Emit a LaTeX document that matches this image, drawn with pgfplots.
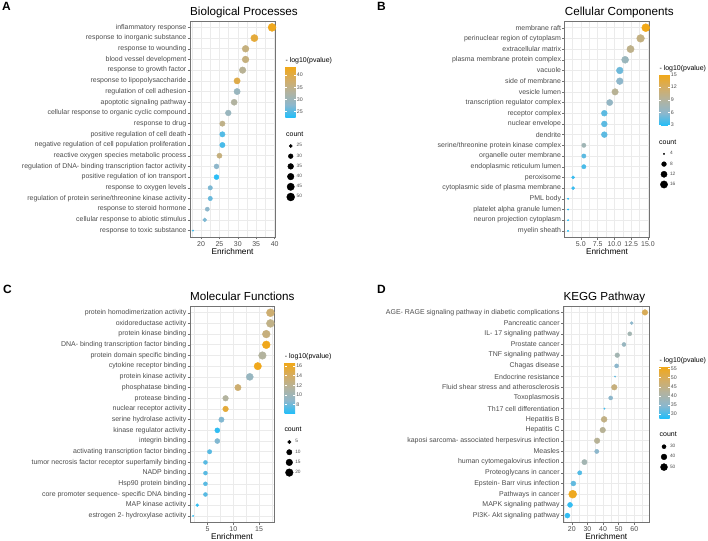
\documentclass[border=0pt]{standalone}
\usepackage{fontspec}
\setmainfont{Liberation Sans}
\usepackage{pgfplots}
\usepackage{pgfplotstable}
\pgfplotsset{compat=1.18}
\pgfplotsset{/pgf/number format/assume math mode=true}

\definecolor{txt}{gray}{0.3}
\definecolor{gridc}{gray}{0.92}
\definecolor{framec}{gray}{0.45}

% -log10(pvalue) colour scale, blue (low) to orange (high)
\pgfplotsset{
  colormap={bluorange}{rgb255=(32,190,250) rgb255=(140,183,205) rgb255=(178,179,160) rgb255=(212,173,100) rgb255=(242,168,22)},
  dotpanel/.style={
    scale only axis, height=216bp, anchor=south west,
    y dir=reverse, ymin=0.4, ymax=20.6, ytick={1,...,20},
    tick align=outside, tick pos=left, major tick length=2.5bp,
    tick style={framec, line width=0.4pt},
    axis line style={framec, line width=0.6pt},
    xmajorgrids, ymajorgrids, xminorgrids,
    major grid style={gridc, line width=0.6pt},
    minor grid style={gridc, line width=0.3pt},
    minor tick length=0pt,
    yticklabel style={font=\fontsize{7}{8}\selectfont, text=txt, inner sep=1pt},
    xticklabel style={font=\fontsize{7}{8}\selectfont, text=txt, inner sep=1pt, yshift=-1bp},
    xlabel={Enrichment},
    xlabel style={at={(axis description cs:0.5,0)}, anchor=base, yshift=-17.2bp,
      inner sep=0pt, font=\fontsize{8.3}{9}\selectfont},
    colormap name=bluorange, colorbar,
    colorbar shift/.style={xshift=0pt},
    colorbar style={scale only axis, width=10.4bp,
      at={(parent axis.north east)}, anchor=north west,
      axis line style={draw=none}, ytick pos=both, yticklabel pos=right,
      tick align=inside, major tick length=2bp,
      major tick style={white, line width=0.5pt},
      yticklabel style={font=\fontsize{5.3}{6}\selectfont, text=txt, inner sep=1pt},
      title={- log10(pvalue)},
      title style={at={(0,1)}, anchor=base west, yshift=-2bp, inner sep=0pt,
        font=\fontsize{7}{8}\selectfont}},
    legend style={at={(1,1)}, anchor=north west, draw=none, fill=none,
      inner sep=0pt, outer sep=0pt, row sep=2.2bp, column sep=1.5bp,
      font=\fontsize{4.8}{5.5}\selectfont, text=txt,
      nodes={inner sep=0.5bp, anchor=west}},
    legend cell align=left,
    legend image code/.code={\path[draw=none, fill=none] (-4bp,-4bp) rectangle (4bp,4bp);
      \draw[##1] plot coordinates {(0bp,0bp)};},
    dots/.style={forget plot, scatter, only marks, mark=*, scatter src=explicit,
      scatter/use mapped color={draw=mapped color, fill=mapped color},
      scatter/@pre marker code/.append style={/tikz/mark size=\rad}},
  },
}

% size key entry: {count min}{count max}{count}
\newcommand\sizekey[3]{%
  \pgfmathsetmacro\keyr{0.7+3.3*sqrt((#3-#1)/(#2-#1))}%
  \edef\keycmd{\noexpand\addlegendimage{mark=*, black, draw=black, fill=black, mark size=\keyr pt}}%
  \keycmd
  \addlegendentry{#3}}

% y = row from the top, x = enrichment, c = count, p = -log10(pvalue)
\pgfplotstableread{
y x c p
1 39.3 50 43
2 34.5 44 41
3 32.1 41 36
4 32.1 41 36
5 31.3 40 34
6 29.8 38 40
7 29.8 38 29.5
8 29.0 37 33
9 27.4 35 29.5
10 25.8 33 35
11 25.8 33 25
12 25.8 33 24.5
13 25.0 32 36
14 24.2 31 28
15 24.2 31 23
16 22.5 29 27
17 22.5 29 26
18 21.7 28 28
19 21.0 27 27
20 17.8 23 24
}\bp

\pgfplotstableread{
y x c p
1 14.67 19 15
2 13.9 18 10.5
3 12.4 16 10
4 11.6 15 7
5 10.8 14 5
6 10.8 14 6
7 10.1 13 9.5
8 9.3 12 6.5
9 8.5 11 4.5
10 8.5 11 4.5
11 8.5 11 4.5
12 5.45 7 7.5
13 5.45 7 4.5
14 5.45 7 4
15 3.85 5 3.5
16 3.85 5 3.5
17 3.1 4 3
18 3.1 4 3
19 3.1 4 3
20 3.1 4 3
}\cc

\pgfplotstableread{
y x c p
1 17.2 22 13.5
2 17.2 22 12.5
3 16.4 21 13
4 16.4 21 16.5
5 15.65 20 11.5
6 14.75 19 16.5
7 13.2 17 9.5
8 10.9 14 13.5
9 8.5 11 11.5
10 8.5 11 15.5
11 7.7 10 8.5
12 6.9 9 6.5
13 6.9 9 8.5
14 5.4 7 7.5
15 4.6 6 7.5
16 4.6 6 7.5
17 4.6 6 7.5
18 4.6 6 7.5
19 3.0 4 6.5
20 2.2 3 6.5
}\mf

\pgfplotstableread{
y x c p
1 66.8 39 50
2 58.3 26 35
3 57.1 30 39
4 53.4 30 37
5 49.1 33 39
6 48.7 30 35
7 47.7 24 32
8 47.2 39 46
9 44.9 30 35
10 40.9 24 30
11 40.7 41 45
12 39.8 39 43
13 36.2 39 43
14 36.0 31 35
15 28.1 37 39
16 25.1 31 31
17 21.0 35 32
18 20.6 60 55
19 18.9 35 29
20 17.2 35 29
}\kegg

\begin{document}
\begin{tikzpicture}[x=1bp, y=1bp]
\path[use as bounding box] (0,0) rectangle (708,541);

% ---------------- A
\begin{axis}[dotpanel, at={(190bp,304bp)}, width=85bp,
  xmin=17, xmax=40.1, xtick={20,25,30,35,40},
  minor xtick={17.5,22.5,27.5,32.5,37.5},
  yticklabels={inflammatory response, response to inorganic substance,
    response to wounding, blood vessel development, response to growth factor,
    response to lipopolysaccharide, regulation of cell adhesion,
    apoptotic signaling pathway, cellular response to organic cyclic compound,
    response to drug, positive regulation of cell death,
    negative regulation of cell population proliferation,
    reactive oxygen species metabolic process,
    regulation of DNA- binding transcription factor activity,
    positive regulation of ion transport, response to oxygen levels,
    regulation of protein serine/threonine kinase activity,
    response to steroid hormone, cellular response to abiotic stimulus,
    response to toxic substance},
  point meta min=22.5, point meta max=43.5,
  colorbar style={xshift=10.3bp, yshift=-45.6bp, height=51bp, ytick={25,30,35,40}},
  legend style={xshift=11.7bp, yshift=-121bp}]
\addplot[dots, visualization depends on={0.7+3.3*sqrt((\thisrow{c}-23)/27) \as \rad}]
  table[x=x, y=y, meta=p] {\bp};
\sizekey{23}{50}{25}\sizekey{23}{50}{30}\sizekey{23}{50}{35}
\sizekey{23}{50}{40}\sizekey{23}{50}{45}\sizekey{23}{50}{50}
\end{axis}

% ---------------- B
\begin{axis}[dotpanel, at={(564.7bp,303.7bp)}, width=84.6bp,
  xmin=2.6, xmax=15.2, xtick={5,7.5,10,12.5,15},
  xticklabels={5.0,7.5,10.0,12.5,15.0},
  minor xtick={3.75,6.25,8.75,11.25,13.75},
  yticklabels={membrane raft, perinuclear region of cytoplasm,
    extracellular matrix, plasma membrane protein complex, vacuole,
    side of membrane, vesicle lumen, transcription regulator complex,
    receptor complex, nuclear envelope, dendrite,
    serine/threonine protein kinase complex, organelle outer membrane,
    endoplasmic reticulum lumen, peroxisome,
    cytoplasmic side of plasma membrane, PML body,
    platelet alpha granule lumen, neuron projection cytoplasm, myelin sheath},
  point meta min=2.8, point meta max=15.05,
  colorbar style={xshift=10bp, yshift=-53bp, height=51.6bp, ytick={3,6,9,12,15}},
  legend style={xshift=10.7bp, yshift=-128.6bp}]
\addplot[dots, visualization depends on={0.7+3.3*sqrt((\thisrow{c}-4)/15) \as \rad}]
  table[x=x, y=y, meta=p] {\cc};
\sizekey{4}{19}{4}\sizekey{4}{19}{8}\sizekey{4}{19}{12}\sizekey{4}{19}{16}
\end{axis}

% ---------------- C
\begin{axis}[dotpanel, at={(190bp,18.7bp)}, width=84bp,
  xmin=1.6, xmax=17.9, xtick={5,10,15},
  minor xtick={2.5,7.5,12.5,17.5},
  yticklabels={protein homodimerization activity, oxidoreductase activity,
    protein kinase binding, DNA- binding transcription factor binding,
    protein domain specific binding, cytokine receptor binding,
    protein kinase activity, phosphatase binding, protease binding,
    nuclear receptor activity, serine hydrolase activity,
    kinase regulator activity, integrin binding,
    activating transcription factor binding,
    tumor necrosis factor receptor superfamily binding, NADP binding,
    Hsp90 protein binding, core promoter sequence- specific DNA binding,
    MAP kinase activity, estrogen 2- hydroxylase activity},
  point meta min=6.1, point meta max=16.7,
  colorbar style={xshift=10.7bp, yshift=-56.3bp, height=51bp, ytick={8,10,12,14,16}},
  legend style={xshift=11.3bp, yshift=-131.7bp}]
\addplot[dots, visualization depends on={0.7+3.3*sqrt((\thisrow{c}-3)/19) \as \rad}]
  table[x=x, y=y, meta=p] {\mf};
\sizekey{3}{22}{5}\sizekey{3}{22}{10}\sizekey{3}{22}{15}\sizekey{3}{22}{20}
\end{axis}

% ---------------- D
\begin{axis}[dotpanel, at={(563.3bp,19bp)}, width=86bp,
  xmin=14.6, xmax=69.6, xtick={20,30,40,50,60},
  minor xtick={15,25,35,45,55,65},
  yticklabels={AGE- RAGE signaling pathway in diabetic complications,
    Pancreatic cancer, IL- 17 signaling pathway, Prostate cancer,
    TNF signaling pathway, Chagas disease, Endocrine resistance,
    Fluid shear stress and atherosclerosis, Toxoplasmosis,
    Th17 cell differentiation, Hepatitis B, Hepatitis C,
    kaposi sarcoma- associated herpesvirus infection, Measles,
    human cytomegalovirus infection, Proteoglycans in cancer,
    Epstein- Barr virus infection, Pathways in cancer,
    MAPK signaling pathway, PI3K- Akt signaling pathway},
  point meta min=27.7, point meta max=56,
  colorbar style={xshift=10bp, yshift=-60.7bp, height=51.6bp, ytick={30,35,40,45,50,55}},
  legend style={xshift=10.7bp, yshift=-136.7bp}]
\addplot[dots, visualization depends on={0.7+3.3*sqrt((\thisrow{c}-24)/36) \as \rad}]
  table[x=x, y=y, meta=p] {\kegg};
\sizekey{24}{60}{30}\sizekey{24}{60}{40}\sizekey{24}{60}{50}
\end{axis}

% panel letters, titles, size-key titles
\begin{scope}[every node/.style={anchor=base west, inner sep=0pt}]
\node[font=\fontsize{12}{14}\selectfont\bfseries] at (2,530) {A};
\node[font=\fontsize{12}{14}\selectfont\bfseries] at (377,530) {B};
\node[font=\fontsize{12}{14}\selectfont\bfseries] at (3,247) {C};
\node[font=\fontsize{12}{14}\selectfont\bfseries] at (377,247) {D};
\node[font=\fontsize{11.7}{13}\selectfont] at (190,525) {Biological Processes};
\node[font=\fontsize{11.7}{13}\selectfont] at (564.7,525) {Cellular Components};
\node[font=\fontsize{11.7}{13}\selectfont] at (190,240.5) {Molecular Functions};
\node[font=\fontsize{11.7}{13}\selectfont] at (563.3,240.5) {KEGG Pathway};
\node[font=\fontsize{7}{8}\selectfont] at (286,404.3) {count};
\node[font=\fontsize{7}{8}\selectfont] at (659,396) {count};
\node[font=\fontsize{7}{8}\selectfont] at (284.3,109) {count};
\node[font=\fontsize{7}{8}\selectfont] at (659.5,104) {count};
\end{scope}
\end{tikzpicture}
\end{document}
